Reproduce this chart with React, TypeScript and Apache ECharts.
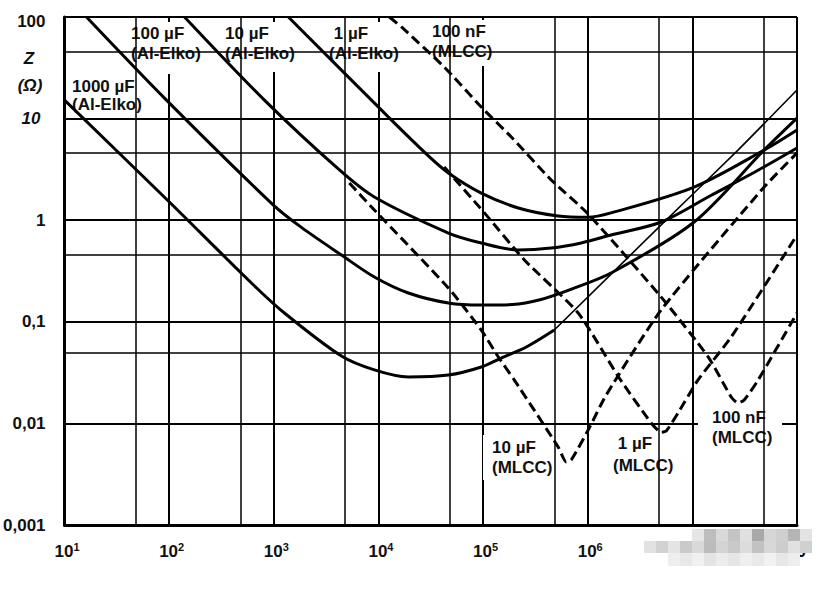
import React, { useEffect, useRef } from 'react';
import * as echarts from 'echarts';

const FONT = '"Liberation Sans", Arial, Helvetica, sans-serif';

// Axis ticks
const yTickValues = [0.001, 0.01, 0.1, 1, 10, 100];
const yTickTexts = ['0,001', '0,01', '0,1', '1', '10', '100'];
const minorX = [48, 480, 4800, 4.8e4, 4.8e5, 4.8e6, 4.8e7];
const minorY = [0.0046, 0.046, 0.46, 4.6, 46];

// Impedance curves: [frequency Hz, |Z| Ohm]
const alElko1000 = [[10, 15.2], [96, 1.58], [611, 0.241], [1262, 0.122], [4430, 0.046], [9140, 0.0336], [19300, 0.0286], [46600, 0.0299], [96100, 0.0359], [149000, 0.044], [259000, 0.0565], [479000, 0.083]];
const alElko1000Hf = [[479000, 0.083], [5.04e6, 0.9], [2.73e7, 4.9], [1e8, 19.1]];
const alElko100 = [[16.2, 100], [94.2, 15.2], [991, 1.41], [1836, 0.85], [4430, 0.454], [9140, 0.276], [19300, 0.192], [46600, 0.153], [96100, 0.146], [190000, 0.148], [350000, 0.165], [700000, 0.21], [1.67e6, 0.302], [1.04e7, 0.96], [4.85e7, 4.9], [1e8, 10.1]];
const alElko10 = [[140, 100], [813, 15.2], [4240, 3.12], [9140, 1.69], [46600, 0.748], [96100, 0.597], [217000, 0.509], [448000, 0.532], [867000, 0.597], [1.67e6, 0.714], [5.04e6, 0.96], [1.5e7, 1.75], [4e7, 3.0], [1e8, 5.14]];
const alElko1 = [[1377, 100], [12400, 10.4], [30000, 4.3], [46600, 2.92], [96100, 1.85], [217000, 1.32], [522000, 1.1], [1.01e6, 1.07], [1.67e6, 1.18], [1.04e7, 2.12], [4.85e7, 4.9], [1e8, 7.73]];
const mlcc10u = [[5270, 2.32], [9140, 1.26], [46600, 0.215], [96100, 0.083], [140000, 0.045], [199000, 0.0267], [522000, 0.00586], [624000, 0.00417], [696000, 0.00437], [1.01e6, 0.0086], [1.5e6, 0.019], [5.04e6, 0.131], [4.85e7, 2.12], [1e8, 4.58]];
const mlcc1u = [[42500, 3.34], [103000, 1.18], [248000, 0.406], [811000, 0.122], [2.0e6, 0.028], [4.04e6, 0.0101], [5.04e6, 0.0082], [5.62e6, 0.0084], [7.31e6, 0.0127], [1.13e7, 0.0267], [2.35e7, 0.0708], [1e8, 0.714]];
const mlcc100n = [[12700, 100], [16600, 79.8], [42500, 32.2], [96100, 13.0], [186000, 6.59], [448000, 2.49], [1.01e6, 1.15], [5.04e6, 0.175], [1.42e7, 0.045], [2.35e7, 0.0182], [2.73e7, 0.0159], [3.13e7, 0.017], [4.25e7, 0.0267], [1e8, 0.122]];

// watermark shades (decoration)
const wmRow1 = ['#e6e6e6', '#bdbdbd', '#d9d9d9', '#c4c4c4', '#e0e0e0', '#a9a9a9', '#d6d6d6', '#cfcfcf', '#b5b5b5', '#e3e3e3'];
const wmRow2 = ['#e2e2e2', '#d2d2d2', '#e4e4e4', '#cacaca', '#d9d9d9', '#bcbcbc', '#d4d4d4', '#c9c9c9', '#dcdcdc', '#c2c2c2', '#d8d8d8', '#cdcdcd', '#e1e1e1', '#d0d0d0'];
const wmRow3 = ['#eeeeee', '#e8e8e8', '#f0f0f0', '#e4e4e4', '#ececec', '#e6e6e6', '#efefef', '#e9e9e9', '#f1f1f1', '#e7e7e7', '#eeeeee'];

const txt = { fontSize: 17, fontWeight: 'bold', fontFamily: FONT, color: '#111' };

// label: text, text left, text top, line height, white box [x0, y0, x1, y1]
function label(text: string, left: number, top: number, lineHeight: number, box: number[]) {
  return [
    {
      type: 'rect', z: 4, silent: true,
      shape: { x: box[0], y: box[1], width: box[2] - box[0], height: box[3] - box[1] },
      style: { fill: '#fff' },
    },
    {
      type: 'text', x: left, y: top, z: 5, silent: true,
      style: {
        text, fill: '#111', fontSize: 17, fontWeight: 'bold', fontFamily: FONT,
        lineHeight, align: 'left', verticalAlign: 'top',
      },
    },
  ];
}

function wmCells(shades: string[], x0: number, y: number, h: number) {
  return shades.map((c, i) => ({ type: 'rect', z: 6, silent: true, shape: { x: x0 + i * 12, y, width: 12, height: h }, style: { fill: c } }));
}

function solid(name: string, data: number[][], width = 3, smooth: number | boolean = 0.3) {
  return {
    type: 'line', name, data, showSymbol: false, smooth, z: 10, silent: true,
    lineStyle: { color: '#000', width },
  };
}
function dashed(name: string, data: number[][]) {
  return {
    type: 'line', name, data, showSymbol: false, smooth: 0.2, z: 10, silent: true,
    lineStyle: { color: '#000', width: 3, type: [10, 5] },
  };
}

export default function App() {
  const ref = useRef<HTMLDivElement>(null);
  useEffect(() => {
    document.body.style.margin = '0';
    const chart = echarts.init(ref.current!, null, { renderer: 'svg' });
    const option: any = {
      animation: false,
      backgroundColor: '#fff',
      grid: { left: 63, right: 31, top: 17, bottom: 64, show: false },
      xAxis: {
        type: 'log', logBase: 10, min: 10, max: 1e8, interval: 1, splitNumber: 7,
        axisLine: { show: true, onZero: false, lineStyle: { color: '#000', width: 3 } },
        axisTick: { show: false },
        splitLine: { show: true, lineStyle: { color: '#000', width: 2 } },
        axisLabel: {
          margin: 16, padding: [0, 0, 0, 5],
          formatter: (v: number) => `{b|10}{s|${Math.round(Math.log10(v))}}`,
          rich: {
            b: { ...txt, lineHeight: 20 },
            s: { fontSize: 11, fontWeight: 'bold', fontFamily: FONT, color: '#111', verticalAlign: 'top', lineHeight: 10 },
          },
        },
      },
      yAxis: {
        type: 'log', logBase: 10, min: 0.001, max: 100, interval: 1, splitNumber: 5,
        axisLine: { show: true, onZero: false, lineStyle: { color: '#000', width: 3 } },
        axisTick: { show: false },
        splitLine: { show: true, lineStyle: { color: '#000', width: 2 } },
        axisLabel: {
          margin: 19,
          formatter: (v: number) => {
            const i = yTickValues.findIndex((t) => Math.abs(Math.log10(t) - Math.log10(v)) < 1e-6);
            const s = i >= 0 ? yTickTexts[i] : '';
            if (i === 4) return `{i|${s}}`;
            if (i === 5) return `{t|${s}}`;
            return `{n|${s}}`;
          },
          rich: {
            n: { ...txt },
            i: { ...txt, fontStyle: 'italic', padding: [0, 5, 0, 0] },
            t: { ...txt, padding: [8, 0, 0, 0] },
          },
        },
      },
      series: [
        {
          type: 'line', name: 'grid', data: [], z: 1, silent: true,
          markLine: {
            silent: true, symbol: ['none', 'none'], label: { show: false },
            lineStyle: { color: '#000', width: 1.5, type: 'solid' },
            emphasis: { disabled: true },
            data: [...minorX.map((v) => ({ xAxis: v })), ...minorY.map((v) => ({ yAxis: v }))],
          },
        },
        solid('1000 µF Al-Elko', alElko1000),
        solid('1000 µF Al-Elko HF', alElko1000Hf, 1.6, 0.2),
        solid('100 µF Al-Elko', alElko100),
        solid('10 µF Al-Elko', alElko10),
        solid('1 µF Al-Elko', alElko1),
        dashed('10 µF MLCC', mlcc10u),
        dashed('1 µF MLCC', mlcc1u),
        dashed('100 nF MLCC', mlcc100n),
      ],
      graphic: {
        elements: [
          ...label('100 µF\n(Al-Elko)', 131, 23, 20, [129, 22, 203, 74]),
          ...label('10 µF\n(Al-Elko)', 225, 23, 20, [223, 22, 297, 72]),
          ...label(' 1 µF\n(Al-Elko)', 329, 23, 20, [327, 22, 401, 72]),
          ...label('100 nF\n(MLCC)', 432, 21, 20, [430, 20, 497, 66]),
          ...label('1000 µF\n(Al-Elko)', 72, 77, 18, [68, 76, 147, 113]),
          ...label('10 µF\n(MLCC)', 492, 437, 20, [483, 435, 552, 480]),
          ...label(' 1 µF\n(MLCC)', 613, 432, 22, [598, 432, 680, 477]),
          ...label('100 nF\n(MLCC)', 712, 407, 20, [698, 405, 782, 448]),
          { type: 'text', x: 29, y: 58, z: 5, style: { text: 'Z', fill: '#111', fontSize: 17, fontWeight: 'bold', fontStyle: 'italic', fontFamily: FONT, align: 'center', verticalAlign: 'middle' } },
          { type: 'text', x: 30, y: 85, z: 5, style: { text: '(Ω)', fill: '#111', fontSize: 17, fontWeight: 'bold', fontStyle: 'italic', fontFamily: FONT, align: 'center', verticalAlign: 'middle' } },
          ...wmCells(wmRow1, 692, 529, 12),
          ...wmCells(wmRow2, 644, 541, 12),
          ...wmCells(wmRow3, 668, 553, 13),
        ],
      },
    };
    chart.setOption(option);
    return () => chart.dispose();
  }, []);
  return <div ref={ref} style={{ width: 828, height: 589, background: '#fff' }} />;
}
